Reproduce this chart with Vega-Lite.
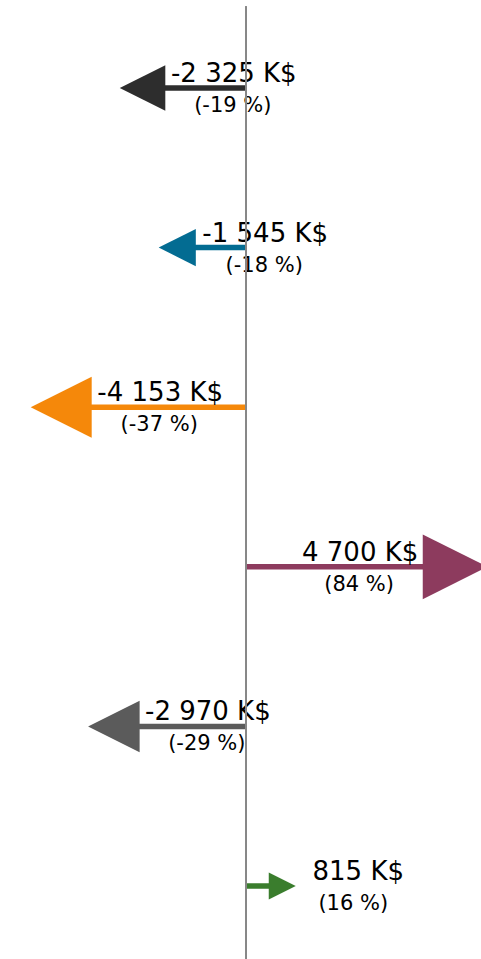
{
  "$schema": "https://vega.github.io/schema/vega-lite/v6.json",
  "width": 481,
  "height": 959,
  "autosize": {"type": "none"},
  "padding": 0,
  "background": "white",
  "config": {"view": {"stroke": null}},
  "data": {
    "values": [
      {"row": 1, "value": -2325, "label": "-2 325 K$", "pct": "(-19 %)"},
      {"row": 2, "value": -1545, "label": "-1 545 K$", "pct": "(-18 %)"},
      {"row": 3, "value": -4153, "label": "-4 153 K$", "pct": "(-37 %)"},
      {"row": 4, "value": 4700, "label": "4 700 K$", "pct": "(84 %)"},
      {"row": 5, "value": -2970, "label": "-2 970 K$", "pct": "(-29 %)"},
      {"row": 6, "value": 815, "label": "815 K$", "pct": "(16 %)"}
    ]
  },
  "layer": [
    {
      "mark": {"type": "rule", "strokeWidth": 5.5},
      "encoding": {
        "y": {"field": "row", "type": "quantitative", "scale": {"domain": [0.449, 6.457], "reverse": true, "nice": false, "zero": false}, "axis": null},
        "x": {"field": "value", "type": "quantitative", "scale": {"domain": [-5528, 5281], "nice": false, "zero": false}, "axis": null},
        "x2": {"datum": 0},
        "color": {"field": "row", "type": "nominal", "scale": {"domain": [1, 2, 3, 4, 5, 6], "range": ["#2d2d2d", "#036c92", "#f5880a", "#8d3b5e", "#5b5b5b", "#3a7d2d"]}, "legend": null}
      }
    },
    {
      "transform": [{"filter": "datum.value < 0"}],
      "mark": {"type": "point", "shape": "M1,-1L-1,0L1,1Z", "filled": true, "opacity": 1, "strokeWidth": 0},
      "encoding": {
        "y": {"field": "row", "type": "quantitative", "scale": {"domain": [0.449, 6.457], "reverse": true, "nice": false, "zero": false}, "axis": null},
        "x": {"field": "value", "type": "quantitative", "scale": {"domain": [-5528, 5281], "nice": false, "zero": false}, "axis": null},
        "size": {"field": "value", "type": "quantitative", "scale": {"type": "linear", "domain": [0, -4700], "range": [0, 4204]}, "legend": null},
        "color": {"field": "row", "type": "nominal", "scale": {"domain": [1, 2, 3, 4, 5, 6], "range": ["#2d2d2d", "#036c92", "#f5880a", "#8d3b5e", "#5b5b5b", "#3a7d2d"]}, "legend": null}
      }
    },
    {
      "transform": [{"filter": "datum.value > 0"}],
      "mark": {"type": "point", "shape": "M-1,-1L1,0L-1,1Z", "filled": true, "opacity": 1, "strokeWidth": 0},
      "encoding": {
        "y": {"field": "row", "type": "quantitative", "scale": {"domain": [0.449, 6.457], "reverse": true, "nice": false, "zero": false}, "axis": null},
        "x": {"field": "value", "type": "quantitative", "scale": {"domain": [-5528, 5281], "nice": false, "zero": false}, "axis": null},
        "size": {"field": "value", "type": "quantitative", "scale": {"type": "linear", "domain": [0, 4700], "range": [0, 4204]}, "legend": null},
        "color": {"field": "row", "type": "nominal", "scale": {"domain": [1, 2, 3, 4, 5, 6], "range": ["#2d2d2d", "#036c92", "#f5880a", "#8d3b5e", "#5b5b5b", "#3a7d2d"]}, "legend": null}
      }
    },
    {
      "transform": [{"filter": "datum.value < 0"}],
      "mark": {"type": "text", "font": "DejaVu Sans", "fontSize": 26, "align": "center", "baseline": "alphabetic", "dy": -6, "color": "#000000"},
      "encoding": {
        "y": {"field": "row", "type": "quantitative", "scale": {"domain": [0.449, 6.457], "reverse": true, "nice": false, "zero": false}, "axis": null},
        "x": {"field": "value", "type": "quantitative", "scale": {"domain": [-8132, 3815], "nice": false, "zero": false}, "axis": null},
        "text": {"field": "label"}
      }
    },
    {
      "transform": [{"filter": "datum.value < 0"}],
      "mark": {"type": "text", "font": "DejaVu Sans", "fontSize": 21, "align": "center", "baseline": "alphabetic", "dx": -1, "dy": 24, "color": "#000000"},
      "encoding": {
        "y": {"field": "row", "type": "quantitative", "scale": {"domain": [0.449, 6.457], "reverse": true, "nice": false, "zero": false}, "axis": null},
        "x": {"field": "value", "type": "quantitative", "scale": {"domain": [-8132, 3815], "nice": false, "zero": false}, "axis": null},
        "text": {"field": "pct"}
      }
    },
    {
      "transform": [{"filter": "datum.value > 2000"}],
      "mark": {"type": "text", "font": "DejaVu Sans", "fontSize": 26, "align": "center", "baseline": "alphabetic", "dx": -95, "dy": -6, "color": "#000000"},
      "encoding": {
        "y": {"field": "row", "type": "quantitative", "scale": {"domain": [0.449, 6.457], "reverse": true, "nice": false, "zero": false}, "axis": null},
        "x": {"field": "value", "type": "quantitative", "scale": {"domain": [-5528, 5281], "nice": false, "zero": false}, "axis": null},
        "text": {"field": "label"}
      }
    },
    {
      "transform": [{"filter": "datum.value > 2000"}],
      "mark": {"type": "text", "font": "DejaVu Sans", "fontSize": 21, "align": "center", "baseline": "alphabetic", "dx": -96, "dy": 24, "color": "#000000"},
      "encoding": {
        "y": {"field": "row", "type": "quantitative", "scale": {"domain": [0.449, 6.457], "reverse": true, "nice": false, "zero": false}, "axis": null},
        "x": {"field": "value", "type": "quantitative", "scale": {"domain": [-5528, 5281], "nice": false, "zero": false}, "axis": null},
        "text": {"field": "pct"}
      }
    },
    {
      "transform": [{"filter": "datum.value > 0 && datum.value <= 2000"}],
      "mark": {"type": "text", "font": "DejaVu Sans", "fontSize": 26, "align": "center", "baseline": "alphabetic", "dx": 76, "dy": -6, "color": "#000000"},
      "encoding": {
        "y": {"field": "row", "type": "quantitative", "scale": {"domain": [0.449, 6.457], "reverse": true, "nice": false, "zero": false}, "axis": null},
        "x": {"field": "value", "type": "quantitative", "scale": {"domain": [-5528, 5281], "nice": false, "zero": false}, "axis": null},
        "text": {"field": "label"}
      }
    },
    {
      "transform": [{"filter": "datum.value > 0 && datum.value <= 2000"}],
      "mark": {"type": "text", "font": "DejaVu Sans", "fontSize": 21, "align": "center", "baseline": "alphabetic", "dx": 71, "dy": 24, "color": "#000000"},
      "encoding": {
        "y": {"field": "row", "type": "quantitative", "scale": {"domain": [0.449, 6.457], "reverse": true, "nice": false, "zero": false}, "axis": null},
        "x": {"field": "value", "type": "quantitative", "scale": {"domain": [-5528, 5281], "nice": false, "zero": false}, "axis": null},
        "text": {"field": "pct"}
      }
    },
    {
      "mark": {"type": "rule", "strokeWidth": 1.6, "color": "#888888"},
      "encoding": {
        "x": {"datum": 0, "type": "quantitative", "scale": {"domain": [-5528, 5281], "nice": false, "zero": false}, "axis": null},
        "y": {"datum": 0.49, "type": "quantitative", "scale": {"domain": [0.449, 6.457], "reverse": true, "nice": false, "zero": false}, "axis": null},
        "y2": {"datum": 6.5}
      }
    }
  ],
  "resolve": {"scale": {"size": "independent", "x": "independent"}}
}
